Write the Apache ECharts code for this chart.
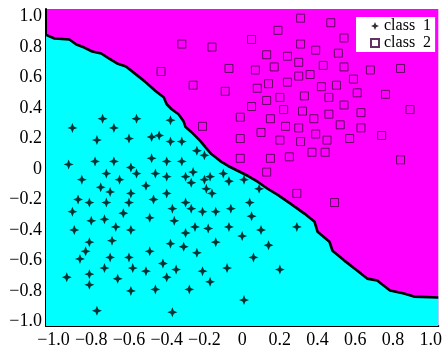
<!DOCTYPE html>
<html>
<head>
<meta charset="utf-8">
<script src="https://cdn.jsdelivr.net/npm/echarts@6/dist/echarts.min.js"></script>
<style>
    html, body { margin: 0; padding: 0; background: #fff; }
    #chart { width: 445px; height: 349px; }
</style>
</head>
<body>
<div id="chart"></div>
<script>
    // tick labels on both axes
    var tickValues = [-1, -0.8, -0.6, -0.4, -0.2, 0, 0.2, 0.4, 0.6, 0.8, 1]

    // decision boundary, [x, y]
    var boundary = [
        [-1.04, 0.88], [-0.995, 0.856], [-0.916, 0.85], [-0.879, 0.817], [-0.837, 0.797],
        [-0.795, 0.771], [-0.747, 0.758], [-0.705, 0.725], [-0.663, 0.693], [-0.616, 0.673],
        [-0.563, 0.621], [-0.511, 0.569], [-0.458, 0.51], [-0.416, 0.471], [-0.4, 0.425],
        [-0.374, 0.392], [-0.337, 0.359], [-0.311, 0.314], [-0.3, 0.275], [-0.268, 0.242],
        [-0.221, 0.183], [-0.195, 0.144], [-0.163, 0.098], [-0.116, 0.052], [-0.074, 0.02],
        [-0.021, -0.013], [0.032, -0.046], [0.084, -0.085], [0.137, -0.131], [0.189, -0.17],
        [0.258, -0.229], [0.332, -0.294], [0.384, -0.346], [0.4, -0.412], [0.463, -0.477],
        [0.479, -0.536], [0.542, -0.601], [0.611, -0.667], [0.663, -0.719], [0.716, -0.732],
        [0.784, -0.797], [0.858, -0.817], [0.911, -0.837], [1.04, -0.843]
    ]

    var class1 = [
        [-0.85, -0.07], [-0.72, -0.03], [-0.65, -0.07], [-0.56, -0.03], [-0.46, -0.03], [-0.40, -0.05],
        [-0.30, -0.05], [-0.26, -0.02], [-0.27, -0.09], [-0.20, -0.07], [-0.17, -0.05], [-0.10, -0.03],
        [-0.07, -0.08], [-0.19, -0.13], [-0.16, -0.16], [-0.75, -0.12], [-0.70, -0.15], [-0.59, -0.16],
        [-0.51, -0.11], [-0.40, -0.16], [-0.87, -0.20], [-0.81, -0.22], [-0.72, -0.22], [-0.60, -0.22],
        [-0.47, -0.20], [-0.30, -0.22], [-0.90, -0.28], [-0.80, -0.34], [-0.73, -0.33], [-0.63, -0.29],
        [-0.49, -0.32], [-0.37, -0.26], [-0.27, -0.26], [-0.21, -0.28], [-0.14, -0.28], [-0.06, -0.26],
        [-0.36, -0.34], [-0.89, -0.40], [-0.67, -0.38], [-0.59, -0.40], [-0.25, -0.38], [-0.18, -0.39],
        [-0.07, -0.38], [-0.30, -0.42], [0.00, -0.44], [-0.81, -0.48], [-0.69, -0.47], [-0.38, -0.49],
        [-0.31, -0.51], [-0.14, -0.48], [-0.83, -0.54], [-0.49, -0.54], [-0.24, -0.55], [-0.86, -0.59],
        [-0.70, -0.58], [-0.60, -0.58], [-0.42, -0.62], [-0.73, -0.65], [-0.58, -0.65], [-0.51, -0.67],
        [-0.35, -0.66], [-0.21, -0.67], [-0.08, -0.65], [-0.93, -0.71], [-0.81, -0.69], [-0.66, -0.72],
        [-0.40, -0.71], [-0.17, -0.74], [-0.81, -0.76], [-0.59, -0.80], [-0.46, -0.79], [-0.28, -0.79],
        [0.01, -0.86], [-0.77, -0.93], [-0.37, -0.94],
        [-0.74, 0.33], [-0.56, 0.33], [-0.90, 0.27], [-0.68, 0.27], [-0.38, 0.32], [-0.77, 0.19],
        [-0.60, 0.20], [-0.48, 0.21], [-0.44, 0.22], [-0.38, 0.18], [-0.32, 0.18], [-0.24, 0.12],
        [-0.20, 0.09], [-0.92, 0.03], [-0.78, 0.05], [-0.68, 0.05], [-0.59, 0.01], [-0.48, 0.07],
        [-0.40, 0.05], [-0.32, 0.05],
        [0.01, -0.07], [0.09, -0.13], [0.04, -0.22], [0.05, -0.31], [0.10, -0.40], [0.29, -0.38],
        [0.14, -0.50], [0.06, -0.58], [0.20, -0.66]
    ]

    var class2 = [
        [0.31, 0.99], [0.47, 0.96], [0.19, 0.91], [0.05, 0.85], [0.54, 0.86], [0.31, 0.82],
        [0.39, 0.78], [0.13, 0.75], [0.24, 0.74], [0.30, 0.70], [0.51, 0.76], [0.07, 0.65],
        [0.17, 0.67], [0.43, 0.68], [0.54, 0.67], [0.68, 0.65], [0.84, 0.66], [0.30, 0.61],
        [0.36, 0.62], [0.24, 0.57], [0.14, 0.56], [0.08, 0.53], [0.59, 0.59], [0.50, 0.55],
        [0.42, 0.54], [0.33, 0.48], [0.20, 0.47], [0.13, 0.45], [0.05, 0.41], [0.46, 0.47],
        [0.61, 0.50], [0.76, 0.49], [0.54, 0.42], [0.22, 0.39], [0.32, 0.38], [-0.01, 0.34],
        [0.15, 0.33], [0.38, 0.33], [0.46, 0.36], [0.63, 0.37], [0.89, 0.39], [0.23, 0.28],
        [0.30, 0.27], [0.10, 0.24], [0.52, 0.29], [0.63, 0.27], [0.39, 0.23], [-0.01, 0.20],
        [0.20, 0.19], [0.31, 0.18], [0.45, 0.19], [0.57, 0.20], [0.74, 0.22], [0.37, 0.11],
        [0.44, 0.11], [0.15, 0.07], [0.25, 0.08], [-0.01, 0.07], [0.84, 0.06], [0.13, -0.02],
        [-0.32, 0.82], [-0.16, 0.80], [-0.43, 0.64], [-0.07, 0.66], [-0.26, 0.55], [-0.09, 0.51],
        [-0.21, 0.28], [0.29, -0.16], [0.49, -0.22]
    ]

    var serif = 'Liberation Serif'
    var starPath = 'path://M0,-6L1.7,-1.7L6,0L1.7,1.7L0,6L-1.7,1.7L-6,0L-1.7,-1.7Z'

    function tickText (v) {
        if (v === 0) return '0'
        return v.toFixed(1).replace('-', '\u2212')
    }

    var axisCommon = {
        type: 'value',
        splitLine: { show: false },
        axisTick: { show: false },
        axisLine: { show: true, onZero: false, lineStyle: { color: '#000', width: 2 } },
        axisLabel: {
            customValues: tickValues,
            formatter: tickText,
            color: '#000',
            fontFamily: serif,
            fontSize: 18
        }
    }

    var option = {
        animation: false,
        grid: {
            left: 46,
            top: 9,
            width: 395,
            height: 319,
            show: true,
            backgroundColor: '#FF00FF',
            borderWidth: 0
        },
        xAxis: Object.assign({}, axisCommon, {
            min: -1.04,
            max: 1.04,
            axisLabel: Object.assign({}, axisCommon.axisLabel, { margin: 5 })
        }),
        yAxis: Object.assign({}, axisCommon, {
            min: -1.03,
            max: 1.05,
            axisLabel: Object.assign({}, axisCommon.axisLabel, { margin: 4 })
        }),
        legend: {
            data: ['class  1', 'class  2'],
            orient: 'vertical',
            left: 356,
            top: 17,
            padding: [1, 4, 1, 14],
            itemGap: 1,
            itemWidth: 8,
            itemHeight: 8,
            backgroundColor: '#fff',
            textStyle: { fontFamily: serif, fontSize: 16, color: '#000' }
        },
        series: [
            {
                name: 'boundary',
                type: 'line',
                data: boundary,
                showSymbol: false,
                symbol: 'none',
                lineStyle: { color: '#000', width: 2.6 },
                areaStyle: { color: '#00FFFF', opacity: 1, origin: 'start' },
                silent: true,
                z: 1
            },
            {
                name: 'class  1',
                type: 'scatter',
                data: class1,
                symbol: starPath,
                symbolSize: 10,
                itemStyle: { color: '#000' },
                z: 3
            },
            {
                name: 'class  2',
                type: 'scatter',
                data: class2,
                symbol: 'rect',
                symbolSize: 8,
                itemStyle: { color: 'rgba(0,0,0,0)', borderColor: '#3a003a', borderWidth: 1 },
                z: 3
            }
        ]
    }

    var myChart = echarts.init(document.getElementById('chart'))
    myChart.setOption(option)
</script>
</body>
</html>
